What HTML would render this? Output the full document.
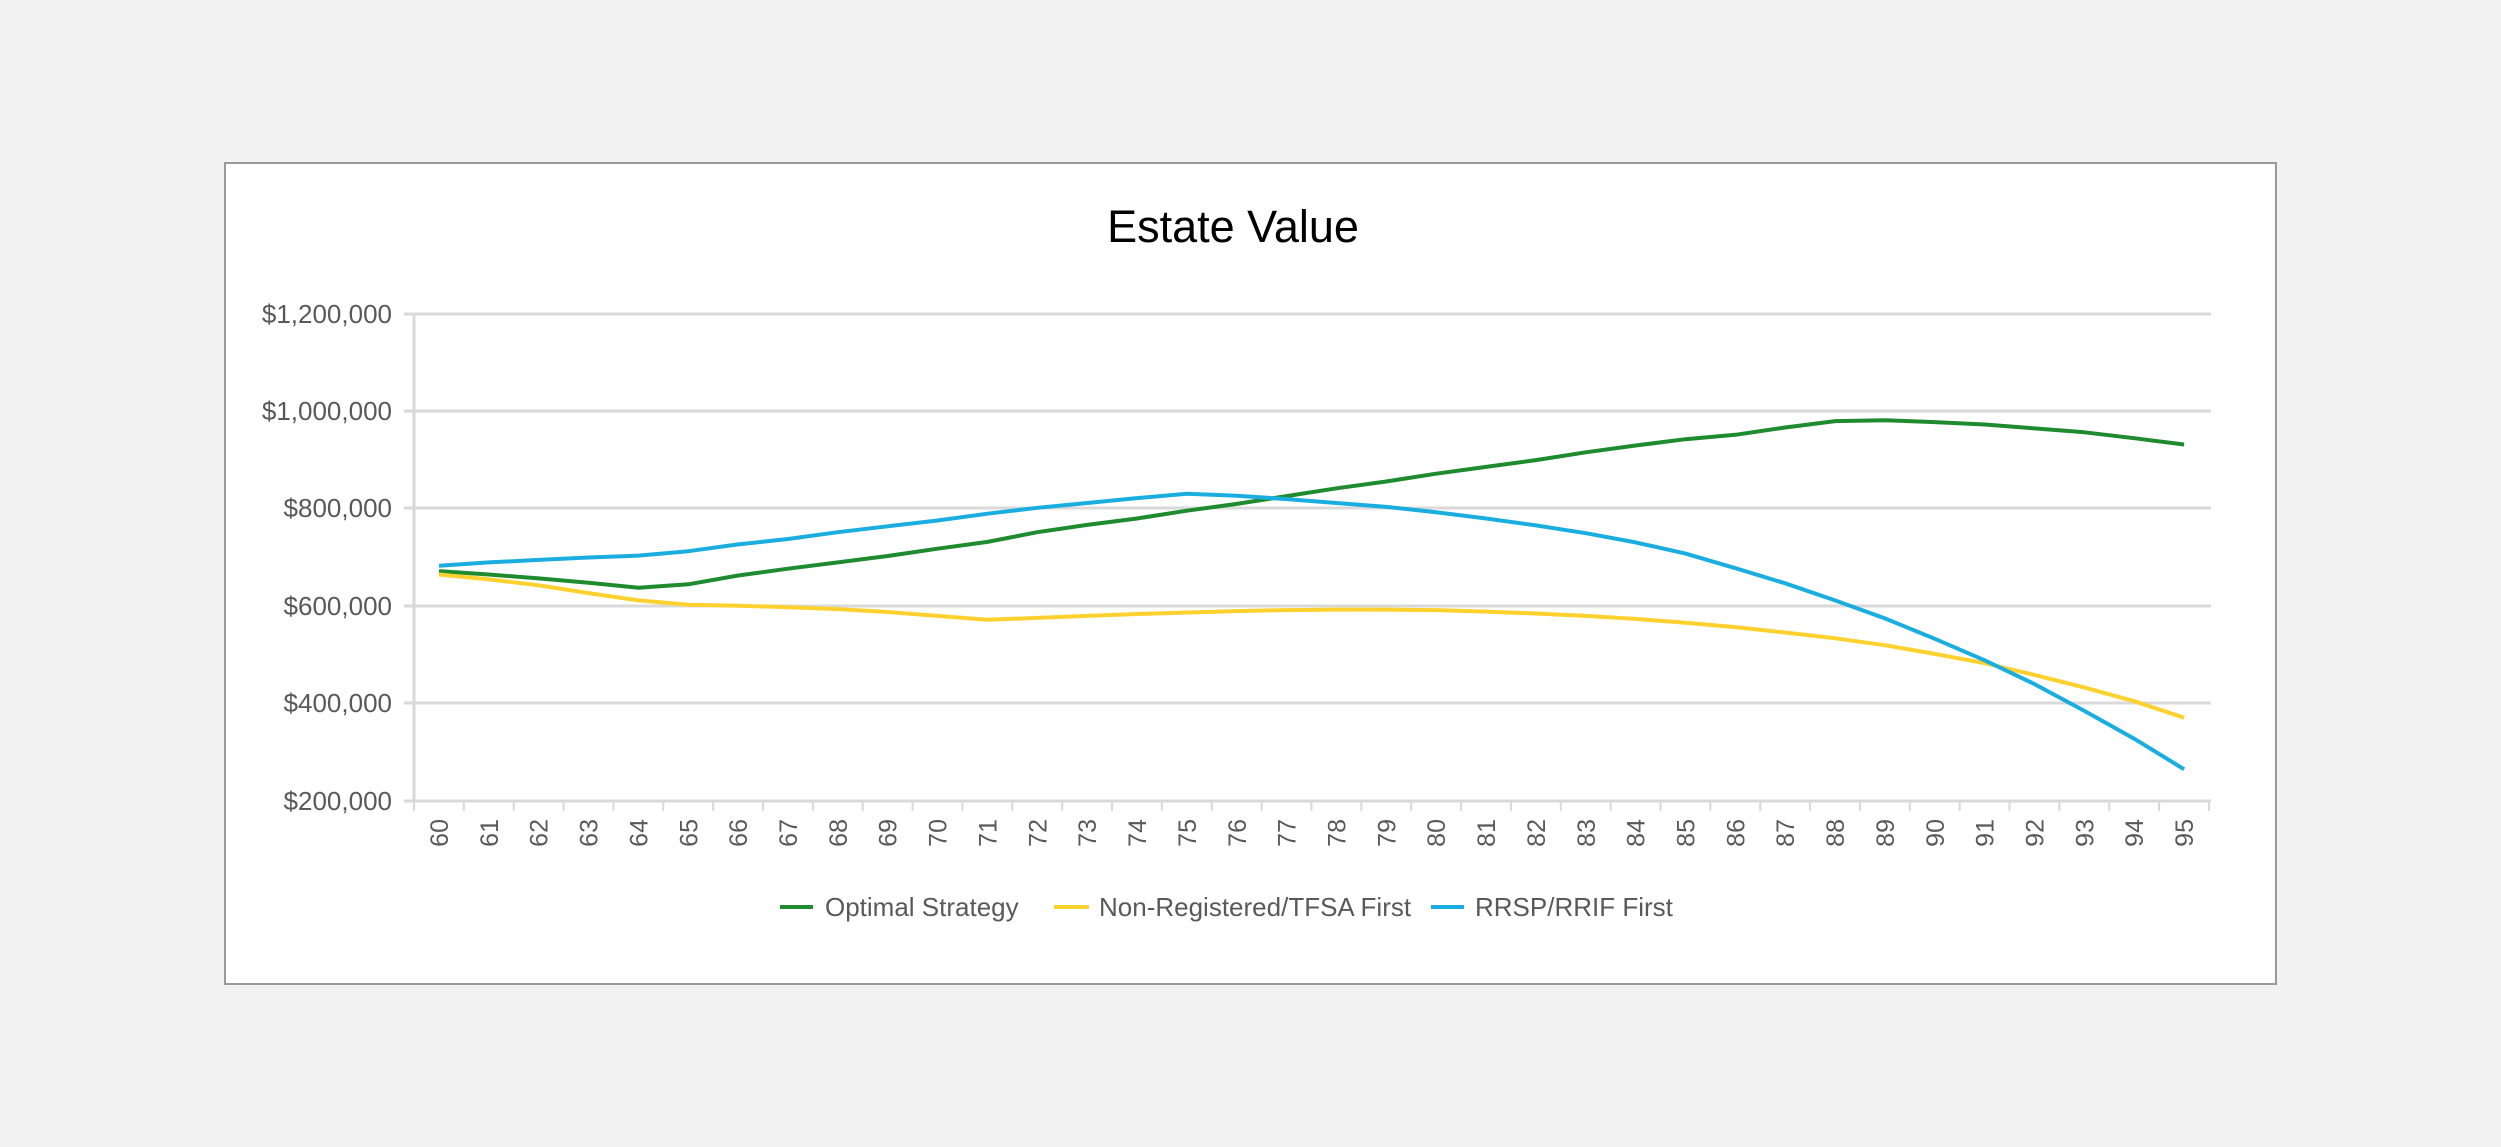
<!DOCTYPE html>
<html><head><meta charset="utf-8"><style>
html,body{margin:0;padding:0;background:#f2f2f2;}
svg{display:block;}
text{font-family:"Liberation Sans",sans-serif;}
</style></head><body>
<svg id="s" width="2501" height="1147" viewBox="0 0 2501 1147" xmlns="http://www.w3.org/2000/svg">
<rect x="0" y="0" width="2501" height="1147" fill="#f2f2f2"/>
<rect x="225" y="163" width="2051" height="821" fill="#fff" stroke="#9a9a9a" stroke-width="2"/>
<text x="1233" y="242" font-size="45" text-anchor="middle" fill="#000">Estate Value</text>
<g stroke="#d9d9d9" stroke-width="3">
<line x1="404" y1="314" x2="2211" y2="314"/>
<line x1="404" y1="411" x2="2211" y2="411"/>
<line x1="404" y1="508" x2="2211" y2="508"/>
<line x1="404" y1="606" x2="2211" y2="606"/>
<line x1="404" y1="703" x2="2211" y2="703"/>
<line x1="404" y1="801" x2="2211" y2="801"/>
<line x1="414" y1="314" x2="414" y2="801"/>
</g>
<g id="ticks" stroke="#d9d9d9" stroke-width="2"></g>
<g font-size="26" fill="#595959" text-anchor="end">
<text x="392" y="323">$1,200,000</text>
<text x="392" y="420">$1,000,000</text>
<text x="392" y="517">$800,000</text>
<text x="392" y="615">$600,000</text>
<text x="392" y="712">$400,000</text>
<text x="392" y="810">$200,000</text>
</g>
<g id="xl" font-size="25" fill="#595959" text-anchor="end">
<text>60</text><text>61</text><text>62</text><text>63</text><text>64</text><text>65</text><text>66</text><text>67</text><text>68</text><text>69</text><text>70</text><text>71</text><text>72</text><text>73</text><text>74</text><text>75</text><text>76</text><text>77</text><text>78</text><text>79</text><text>80</text><text>81</text><text>82</text><text>83</text><text>84</text><text>85</text><text>86</text><text>87</text><text>88</text><text>89</text><text>90</text><text>91</text><text>92</text><text>93</text><text>94</text><text>95</text>
</g>
<polyline id="g" fill="none" stroke="#1e8c2e" stroke-width="4" stroke-linejoin="round"/>
<polyline id="y" fill="none" stroke="#ffd12e" stroke-width="4" stroke-linejoin="round"/>
<polyline id="b" fill="none" stroke="#1aaee0" stroke-width="4" stroke-linejoin="round"/>
<line x1="780" y1="907" x2="813" y2="907" stroke="#1e8c2e" stroke-width="4"/>
<text x="825" y="916" font-size="26" fill="#595959">Optimal Strategy</text>
<line x1="1054" y1="907" x2="1089" y2="907" stroke="#ffd12e" stroke-width="4"/>
<text x="1099" y="916" font-size="26" fill="#595959">Non-Registered/TFSA First</text>
<line x1="1431" y1="907" x2="1464" y2="907" stroke="#1aaee0" stroke-width="4"/>
<text x="1475" y="916" font-size="26" fill="#595959">RRSP/RRIF First</text>
</svg>
<script>
var G=[672,665,657,648,638,645,663,677,690,703,718,732,752,767,780,796,810,826,842,856,872,886,900,916,930,943,952,967,980,982,978,973,965,957,945,932];
var Y=[665,655,643,627,612,603,601,598,594,588,580,572,576,580,584,587,590,592,593,593,592,589,585,580,574,566,557,546,534,520,502,483,459,433,405,371];
var B=[683,690,695,700,704,713,727,738,752,764,776,790,802,812,822,831,827,820,812,804,793,780,766,750,731,708,678,647,612,575,533,489,440,385,328,265];
function X(i){return 439+i*49.86;}
function V(v){return 801-(v-200)*0.487;}
function pts(a){return a.map(function(v,i){return X(i).toFixed(1)+','+V(v).toFixed(1)}).join(' ');}
document.getElementById('g').setAttribute('points',pts(G));
document.getElementById('y').setAttribute('points',pts(Y));
document.getElementById('b').setAttribute('points',pts(B));
var t=document.getElementById('ticks'),ns='http://www.w3.org/2000/svg';
for(var i=0;i<=36;i++){var x=414+i*49.86;var l=document.createElementNS(ns,'line');l.setAttribute('x1',x);l.setAttribute('x2',x);l.setAttribute('y1',801);l.setAttribute('y2',811);t.appendChild(l);}
var xs=document.getElementById('xl').children;
for(var i=0;i<xs.length;i++){var x=X(i)+9;xs[i].setAttribute('transform','translate('+x+',819) rotate(-90)');}
</script>
</body></html>
